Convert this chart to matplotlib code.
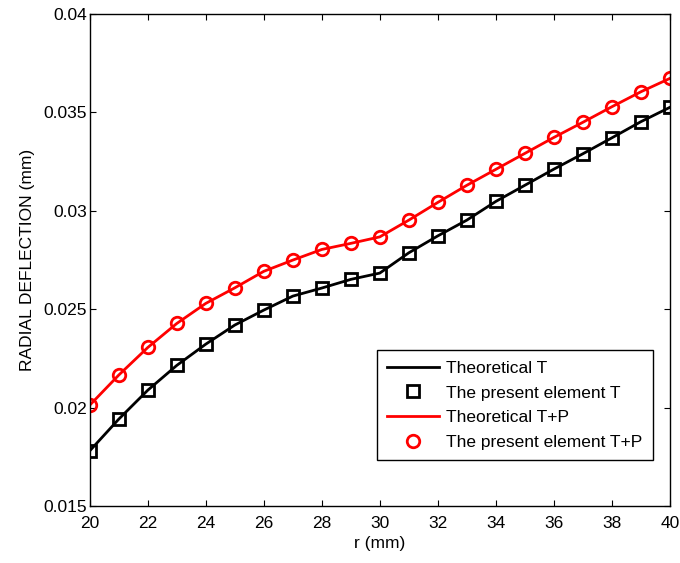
import matplotlib.pyplot as plt

plt.rcParams['font.family'] = ['Liberation Sans', 'DejaVu Sans']

# radius (mm)
r = list(range(20, 41))

# radial deflection (mm), thermal load only
defl_T = [0.01781, 0.01942, 0.02089, 0.02215, 0.02323, 0.02420, 0.02496,
          0.02567, 0.02608, 0.02652, 0.02684, 0.02787, 0.02873, 0.02953,
          0.03048, 0.03130, 0.03212, 0.03290, 0.03371, 0.03453, 0.03526]

# radial deflection (mm), thermal + pressure
defl_TP = [0.02013, 0.02166, 0.02306, 0.02428, 0.02530, 0.02609, 0.02693,
           0.02750, 0.02804, 0.02835, 0.02868, 0.02953, 0.03043, 0.03130,
           0.03211, 0.03292, 0.03373, 0.03450, 0.03529, 0.03605, 0.03673]

xticks = list(range(20, 41, 2))
yticks = [0.015, 0.02, 0.025, 0.03, 0.035, 0.04]
ytick_labels = ['0.015', '0.02', '0.025', '0.03', '0.035', '0.04']

fig = plt.figure(figsize=(6.8, 5.63), dpi=100)
ax = fig.add_axes([0.132, 0.101, 0.853, 0.874])

ax.plot(r, defl_T, color='black', lw=2, label='Theoretical T')
ax.plot(r, defl_T, ls='none', marker='s', ms=9, mfc='none', mec='black',
        mew=2, label='The present element T')
ax.plot(r, defl_TP, color='red', lw=2, label='Theoretical T+P')
ax.plot(r, defl_TP, ls='none', marker='o', ms=9, mfc='none', mec='red',
        mew=2, label='The present element T+P')

ax.set_xlim(20, 40)
ax.set_ylim(0.015, 0.04)
ax.set_xticks(xticks)
ax.set_yticks(yticks)
ax.set_yticklabels(ytick_labels)
ax.tick_params(direction='in', top=True, right=True, labelsize=12.5,
               length=4, pad=2)
ax.tick_params(axis='x', pad=7)
for s in ax.spines.values():
    s.set_linewidth(1)

ax.set_xlabel('r (mm)', fontsize=12.5, labelpad=4)
ax.set_ylabel('RADIAL DEFLECTION (mm)', fontsize=12.5, labelpad=6)

leg = ax.legend(loc='lower right', bbox_to_anchor=(0.971, 0.093),
                borderaxespad=0, fontsize=12.5, fancybox=False,
                edgecolor='black', framealpha=1, handlelength=3,
                handletextpad=0.4, labelspacing=0.55, borderpad=0.6)
leg.get_frame().set_linewidth(1)

fig.savefig('out.png', dpi=100)
